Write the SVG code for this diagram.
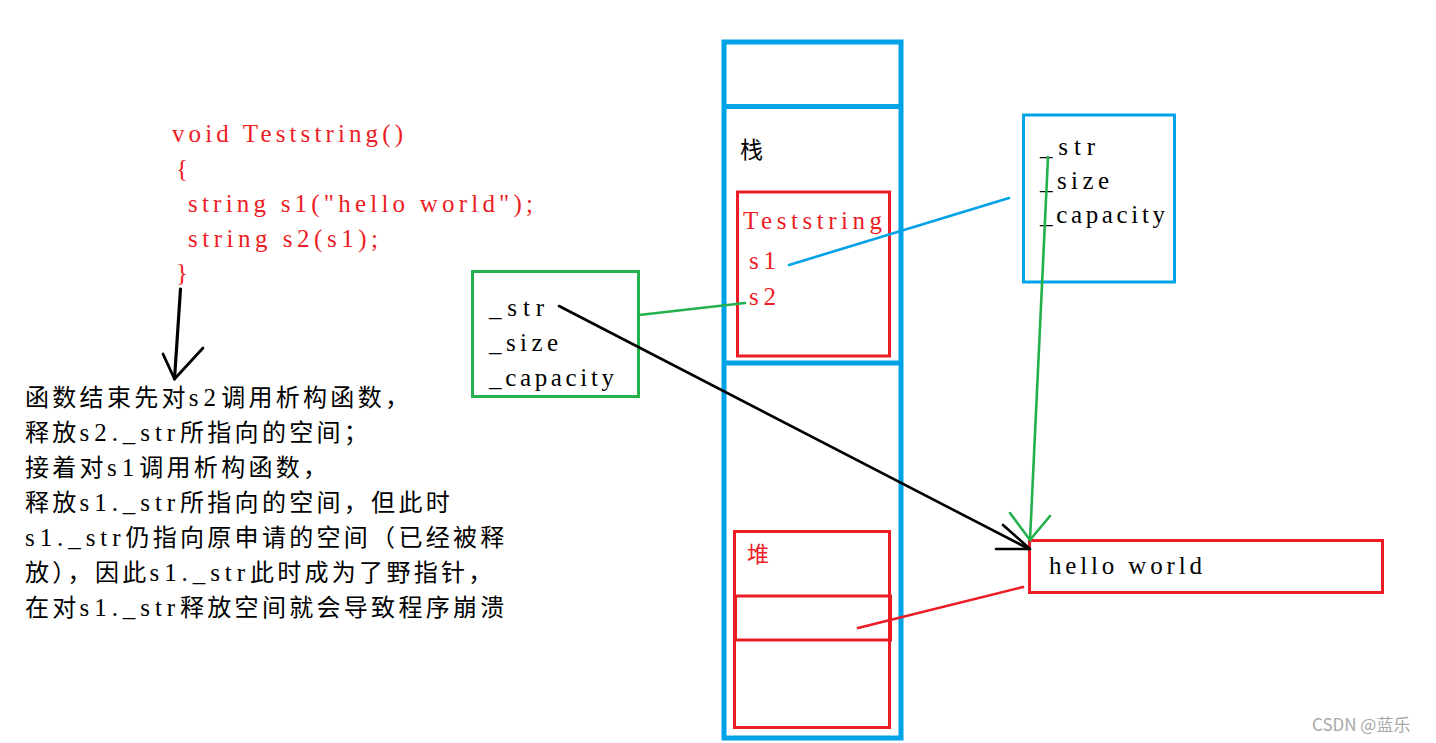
<svg xmlns="http://www.w3.org/2000/svg" width="1436" height="743" viewBox="0 0 1436 743">
<style>
.mono{font-family:"Liberation Serif","Noto Sans CJK SC",serif;font-size:25px}
.red{fill:#ED1C24}
.blk{fill:#000}
.cn{font-family:"Noto Sans CJK SC",sans-serif;font-size:24px;letter-spacing:3.3px;fill:#000}
.a{font-family:"Liberation Serif",serif;font-size:25px;letter-spacing:0px}
.bx{fill:none;stroke-width:3}
.ln{fill:none;stroke-width:2.6;stroke-linecap:round}
</style>
<rect width="1436" height="743" fill="#fff"/>

<g id="code">
<text class="mono red" x="172" y="142" textLength="231" lengthAdjust="spacing">void Teststring()</text>
<text class="mono red" x="176" y="177">{</text>
<text class="mono red" x="188" y="212" textLength="345" lengthAdjust="spacing">string s1("hello world");</text>
<text class="mono red" x="188" y="247" textLength="190" lengthAdjust="spacing">string s2(s1);</text>
<text class="mono red" x="176" y="281">}</text>
</g>

<g id="explanation">
<text class="cn" x="25" y="406">函数结束先对<tspan class="a" textLength="27.3" lengthAdjust="spacing">s2</tspan>调用析构函数，</text>
<text class="cn" x="25" y="441">释放<tspan class="a" textLength="95.5" lengthAdjust="spacing">s2._str</tspan>所指向的空间；</text>
<text class="cn" x="25" y="476">接着对<tspan class="a" textLength="27.3" lengthAdjust="spacing">s1</tspan>调用析构函数，</text>
<text class="cn" x="25" y="511">释放<tspan class="a" textLength="95.5" lengthAdjust="spacing">s1._str</tspan>所指向的空间，但此时</text>
<text class="cn" x="25" y="546"><tspan class="a" textLength="95.5" lengthAdjust="spacing">s1._str</tspan>仍指向原申请的空间（已经被释</text>
<text class="cn" x="25" y="581">放），因此<tspan class="a" textLength="95.5" lengthAdjust="spacing">s1._str</tspan>此时成为了野指针，</text>
<text class="cn" x="25" y="616">在对<tspan class="a" textLength="95.5" lengthAdjust="spacing">s1._str</tspan>释放空间就会导致程序崩溃</text>
</g>

<g id="stack">
<rect x="724" y="42" width="177" height="696" fill="none" stroke="#00A2E8" stroke-width="5"/>
<line x1="724" y1="106.5" x2="901" y2="106.5" stroke="#00A2E8" stroke-width="5"/>
<line x1="724" y1="363" x2="901" y2="363" stroke="#00A2E8" stroke-width="5"/>
<text x="740" y="158" style="font-family:'Noto Sans CJK SC',sans-serif;font-size:23px" fill="#000">栈</text>
</g>

<g id="teststring-frame">
<rect class="bx" x="737.5" y="192" width="152" height="164" stroke="#ED1C24"/>
<text class="mono red" x="743" y="229" textLength="139" lengthAdjust="spacing">Teststring</text>
<text class="mono red" x="749" y="269" textLength="27" lengthAdjust="spacing">s1</text>
<text class="mono red" x="749" y="305" textLength="27" lengthAdjust="spacing">s2</text>
</g>

<g id="heap">
<rect class="bx" x="734.5" y="531.5" width="155" height="196" stroke="#ED1C24"/>
<rect class="bx" x="735.5" y="596" width="155" height="44" stroke="#ED1C24"/>
<text x="747" y="562" style="font-family:'Noto Sans CJK SC',sans-serif;font-size:22px" fill="#ED1C24">堆</text>
</g>

<g id="s2-object">
<rect class="bx" x="472.5" y="271.5" width="166" height="125" stroke="#22B14C"/>
<text class="mono blk" x="489" y="316" textLength="55" lengthAdjust="spacing">_str</text>
<text class="mono blk" x="489" y="351" textLength="69" lengthAdjust="spacing">_size</text>
<text class="mono blk" x="489" y="386" textLength="125" lengthAdjust="spacing">_capacity</text>
</g>

<g id="s1-object">
<rect class="bx" x="1023.5" y="115" width="151" height="167" stroke="#00A2E8"/>
<text class="mono blk" x="1040" y="155" textLength="55" lengthAdjust="spacing">_str</text>
<text class="mono blk" x="1040" y="189" textLength="69" lengthAdjust="spacing">_size</text>
<text class="mono blk" x="1040" y="223" textLength="125" lengthAdjust="spacing">_capacity</text>
</g>

<g id="hello-world">
<rect class="bx" x="1029.5" y="540.5" width="353" height="52" stroke="#ED1C24"/>
<text class="mono blk" x="1049" y="574" textLength="153" lengthAdjust="spacing">hello world</text>
</g>

<g id="connectors">
<line class="ln" x1="789" y1="265" x2="1009" y2="198" stroke="#00A2E8"/>
<line class="ln" x1="639" y1="315" x2="745" y2="303" stroke="#22B14C"/>
<line class="ln" x1="1048" y1="157" x2="1030" y2="540" stroke="#22B14C"/>
<polyline class="ln" points="1010,513 1030,540 1050,516" stroke="#22B14C"/>
<line class="ln" x1="559" y1="306" x2="1029" y2="549" stroke="#000"/>
<polyline class="ln" points="1003,525 1030,549 996,549" stroke="#000" stroke-linejoin="round"/>
<line x1="180.5" y1="289" x2="174.5" y2="379" stroke="#000" stroke-width="3.2" stroke-linecap="round"/>
<polyline points="163,354 174.5,379 203,348" fill="none" stroke="#000" stroke-width="2.8" stroke-linecap="round" stroke-linejoin="round"/>
<line class="ln" x1="858" y1="628" x2="1023" y2="587" stroke="#ED1C24"/>
</g>

<text x="1312" y="731" style="font-family:'Noto Sans CJK SC',sans-serif;font-size:17px" fill="#a8a8a8">CSDN @蓝乐</text>
</svg>
